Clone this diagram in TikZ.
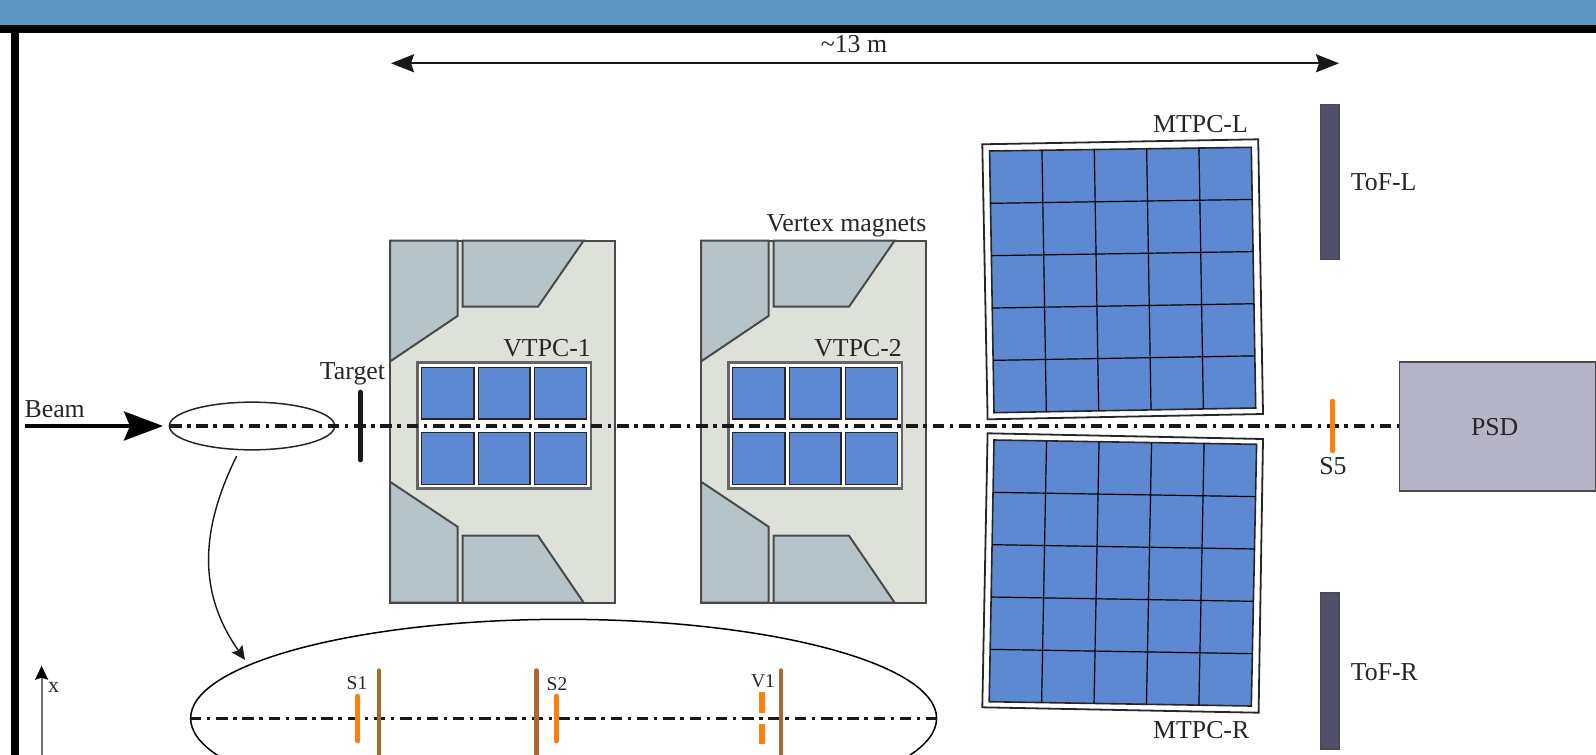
\documentclass[tikz,border=0pt]{standalone}
\usepackage{fontspec}
\setmainfont{Liberation Serif}
\usetikzlibrary{arrows.meta,calc,shapes.geometric}
\definecolor{bandblue}{HTML}{5E94C1}
\definecolor{magfill}{HTML}{DDE1DA}
\definecolor{yokefill}{HTML}{B6C3C9}
\definecolor{cellblue}{HTML}{5C89D2}
\definecolor{edgegray}{HTML}{4A4A4A}
\definecolor{tofdark}{HTML}{50506A}
\definecolor{psdfill}{HTML}{B5B4C6}
\definecolor{scint}{HTML}{FF7F0E}
\definecolor{veto}{HTML}{A86A2C}
\tikzset{
  lab/.style={font=\fontsize{25.8}{26}\selectfont,anchor=base,inner sep=0pt,text=black!85},
  smalllab/.style={font=\fontsize{19.5}{20}\selectfont,anchor=base,inner sep=0pt,text=black!85},
  yoke/.style={fill=yokefill,draw=edgegray,line width=2pt,line join=miter},
  magnet/.style={fill=magfill,draw=edgegray,line width=2pt},
  cell/.style={fill=cellblue,draw=black!85,line width=1.5pt},
  beamline/.style={draw=black!90,line width=3.4pt,dash pattern=on 11.5pt off 5.5pt on 3.5pt off 5.8pt},
  scintbar/.style={draw=scint,line width=4.5pt,line cap=round},
  vetobar/.style={draw=veto,line width=4.5pt,line cap=round},
  tofbar/.style={fill=tofdark,draw=edgegray,line width=1.5pt},
  tpcframe/.style={fill=white,draw=edgegray!85,line width=2.6pt},
  mframe/.style={fill=white,draw=black!85,line width=1.8pt},
  mgrid/.style={draw=black,line width=1.2pt},
}
\newcommand{\vmagnet}[2]{%
 \begin{scope}[xshift=#1pt]
  \path[magnet] (390,240.5) rectangle (615,602.7);
  \path[yoke] (390,240.5) -- (457.5,240.5) -- (457.5,316) -- (390,361.5) -- cycle;
  \path[yoke] (462.5,240.5) -- (583.7,240.5) -- (538,306.7) -- (462.5,306.7) -- cycle;
  \path[yoke] (390,481.7) -- (457.5,526.7) -- (457.5,602.7) -- (390,602.7) -- cycle;
  \path[yoke] (462.5,535.7) -- (538,535.7) -- (583.7,602.7) -- (462.5,602.7) -- cycle;
  \path[tpcframe] (417.5,362.7) rectangle (591,488.7);
  \foreach \xa/\xb in {421.6/473.9,478.4/529.8,534.7/586.5}{
    \path[cell] (\xa,367.7) rectangle (\xb,419);
    \path[cell] (\xa,432.7) rectangle (\xb,484.3);
  }
  \node[lab,anchor=base east] (#2) at (591,356.7) {#2};
 \end{scope}}
% #1..#4 outer TL TR BR BL, #5..#8 blue TL TR BR BL
\newcommand{\mtpc}[8]{%
  \path[mframe] #1 -- #2 -- #3 -- #4 -- cycle;
  \path[fill=cellblue,draw=black!85,line width=1.6pt] #5 -- #6 -- #7 -- #8 -- cycle;
  \foreach \t in {0.2,0.4,0.6,0.8}{
    \draw[mgrid] ($#5!\t!#6$) -- ($#8!\t!#7$);
    \draw[mgrid] ($#5!\t!#8$) -- ($#6!\t!#7$);
  }}
\begin{document}
\begin{tikzpicture}[x=1pt,y=-1pt]
\useasboundingbox (0,0) rectangle (1596,755);
\begin{scope}
\clip (0,0) rectangle (1596,755);
% window chrome
\fill[bandblue] (0,0) rectangle (1596,25.3);
\fill[black] (0,25.3) rectangle (1596,33.3);
\fill[black] (11,33) rectangle (19,755);
% span arrow
\coordinate (spanL) at (391,63.3);
\coordinate (spanR) at (1339,63.3);
\draw[line width=2pt,black!90,{Stealth[length=23pt,width=18pt,inset=3pt]}-{Stealth[length=23pt,width=18pt,inset=3pt]}] (spanL) -- (spanR);
\node[lab] (span) at (854,52) {\textasciitilde13 m};
% magnets
\vmagnet{0}{VTPC-1}
\vmagnet{311}{VTPC-2}
\node[lab,anchor=base east] (vm) at (926.5,231) {Vertex magnets};
% MTPCs
\mtpc{(982.3,144.3)}{(1258.2,139.3)}{(1263,414)}{(987.6,419.3)}{(989.6,151)}{(1251.3,147.3)}{(1255.7,408)}{(994,412.7)}
\mtpc{(987.6,433.3)}{(1263,439)}{(1258.6,712.7)}{(982.3,707.3)}{(994,440)}{(1256.6,444.3)}{(1251.3,706)}{(989.2,701.7)}
\node[lab,anchor=base west] (mtpcl) at (1153,132.3) {MTPC-L};
\node[lab,anchor=base west] (mtpcr) at (1153,738.3) {MTPC-R};
% ToF
\path[tofbar] (1320.6,104.5) rectangle (1339,259.5);
\path[tofbar] (1320.6,592.8) rectangle (1339,748.8);
\node[lab,anchor=base west] (tofl) at (1350.7,190.7) {ToF-L};
\node[lab,anchor=base west] (tofr) at (1350.7,680.7) {ToF-R};
% PSD
\node[fill=psdfill,draw=edgegray,line width=1.8pt,minimum width=196pt,minimum height=129pt,inner sep=0pt] (psd) at (1497.4,426.2) {};
\node[lab] (psdlab) at (1494.7,435) {PSD};
% beam line
\coordinate (beamstart) at (25,426);
\coordinate (beamtip) at (163,426);
\draw[line width=3.8pt,black,-{Stealth[length=39pt,width=29pt,inset=6pt]}] (beamstart) -- (beamtip);
\node[draw=black!85,line width=1.5pt,ellipse,minimum width=165.3pt,minimum height=47.7pt,inner sep=0pt] (zoomsrc) at (252,426) {};
\coordinate (beamA) at (170,426);
\path[beamline] (beamA) -- (psd.west |- beamA);
\node[lab] (beam) at (54.7,417.7) {Beam};
% target
\draw[line width=4.6pt,black!90,line cap=round] (360.4,392) -- (360.4,460);
\node[lab] (target) at (352.5,379) {Target};
% S5
\draw[scintbar] (1332.4,401) -- (1332.4,451);
\node[lab] (sfive) at (1333,474) {S5};
% inset
\node[draw=black,line width=1.5pt,ellipse,minimum width=746pt,minimum height=198pt,inner sep=0pt] (inset) at (563.6,718.3) {};
\path[beamline] (inset.west) -- (inset.east);
\draw[vetobar] (378.8,670.5) -- (378.8,770);
\draw[vetobar] (536.3,670.5) -- (536.3,770);
\draw[vetobar] (780.8,670.5) -- (780.8,770);
\draw[scintbar,line width=4.5pt] (357.6,696) -- (357.6,741);
\draw[scintbar,line width=4.5pt] (556.3,696) -- (556.3,741);
\draw[draw=scint,line width=6pt] (762.4,692.3) -- (762.4,712.7);
\draw[draw=scint,line width=6pt] (762.4,724.3) -- (762.4,744.3);
\node[smalllab] (sone) at (357,689) {S1};
\node[smalllab] (stwo) at (557,690.7) {S2};
\node[smalllab] (vone) at (763,687) {V1};
% curved connector
\coordinate (curveA) at (236.7,456);
\coordinate (curveB) at (245,660);
\draw[line width=1.4pt,black!90,-{Stealth[length=14pt,width=13pt,inset=2.5pt]}] (curveA) .. controls (195,540) and (203,600) .. (curveB);
% axis
\coordinate (axisA) at (41.6,770);
\coordinate (axisB) at (41.6,665.7);
\draw[line width=2pt,black!55,-{Stealth[length=14pt,width=13pt,inset=2pt,fill=black,color=black]}] (axisA) -- (axisB);
\node[smalllab,font=\fontsize{22}{22}\selectfont] (axisx) at (53.5,692.7) {x};
\end{scope}
\end{tikzpicture}
\end{document}
